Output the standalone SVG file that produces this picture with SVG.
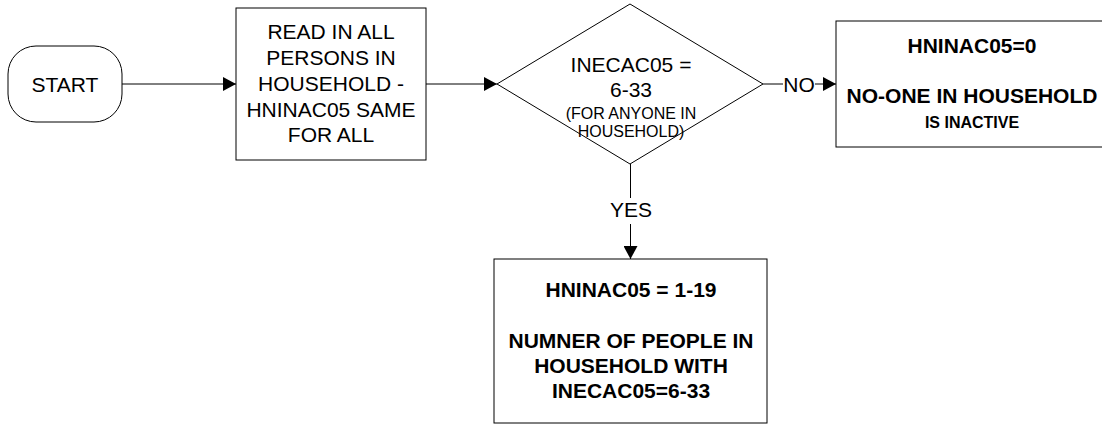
<svg xmlns="http://www.w3.org/2000/svg" width="1102" height="425" viewBox="0 0 1102 425">
<style>
.shape{fill:#fff;stroke:#000;stroke-width:1}
.t{font-family:"Liberation Sans",Arial,sans-serif;font-size:21px;fill:#000;text-anchor:middle}
.b{font-weight:bold}
.s{font-size:16px}
.c{fill:none;stroke:#000;stroke-width:1}
</style>
<defs>
<marker id="arr" markerWidth="13" markerHeight="14" refX="13" refY="7" orient="auto" markerUnits="userSpaceOnUse">
<path d="M0,0 L13,7 L0,14 Z" fill="#000"/>
</marker>
</defs>
<rect width="1102" height="425" fill="#fff"/>
<g id="connectors">
<line class="c" x1="122" y1="84" x2="236" y2="84" marker-end="url(#arr)"/>
<line class="c" x1="426" y1="84" x2="497" y2="84" marker-end="url(#arr)"/>
<line class="c" x1="763" y1="84" x2="783" y2="84"/>
<line class="c" x1="815" y1="84" x2="836" y2="84" marker-end="url(#arr)"/>
<text class="t" x="799" y="92">NO</text>
<line class="c" x1="630.5" y1="164" x2="630.5" y2="198"/>
<line class="c" x1="630.5" y1="224" x2="630.5" y2="259" marker-end="url(#arr)"/>
<text class="t" x="631" y="217">YES</text>
</g>
<g id="start">
<rect class="shape" x="8" y="46" width="114" height="76" rx="28" ry="28"/>
<text class="t" x="65" y="92">START</text>
</g>
<g id="read">
<rect class="shape" x="236" y="8" width="190" height="152"/>
<text class="t" x="331" y="39">READ IN ALL</text>
<text class="t" x="331" y="65">PERSONS IN</text>
<text class="t" x="331" y="91">HOUSEHOLD -</text>
<text class="t" x="331" y="117">HNINAC05 SAME</text>
<text class="t" x="331" y="142">FOR ALL</text>
</g>
<g id="decision">
<polygon class="shape" points="497,84 630,4 763,84 630,164"/>
<text class="t" x="631" y="72">INECAC05 =</text>
<text class="t" x="631" y="97">6-33</text>
<text class="t s" x="631" y="119">(FOR ANYONE IN</text>
<text class="t s" x="631" y="137">HOUSEHOLD)</text>
</g>
<g id="no-box">
<rect class="shape" x="836" y="21" width="280" height="126"/>
<text class="t b" x="972" y="53">HNINAC05=0</text>
<text class="t b" x="972" y="103">NO-ONE IN HOUSEHOLD</text>
<text class="t b s" x="972" y="128">IS INACTIVE</text>
</g>
<g id="yes-box">
<rect class="shape" x="494" y="259" width="273" height="164"/>
<text class="t b" x="631" y="297">HNINAC05 = 1-19</text>
<text class="t b" x="631" y="348">NUMNER OF PEOPLE IN</text>
<text class="t b" x="631" y="373">HOUSEHOLD WITH</text>
<text class="t b" x="631" y="398">INECAC05=6-33</text>
</g>
</svg>
